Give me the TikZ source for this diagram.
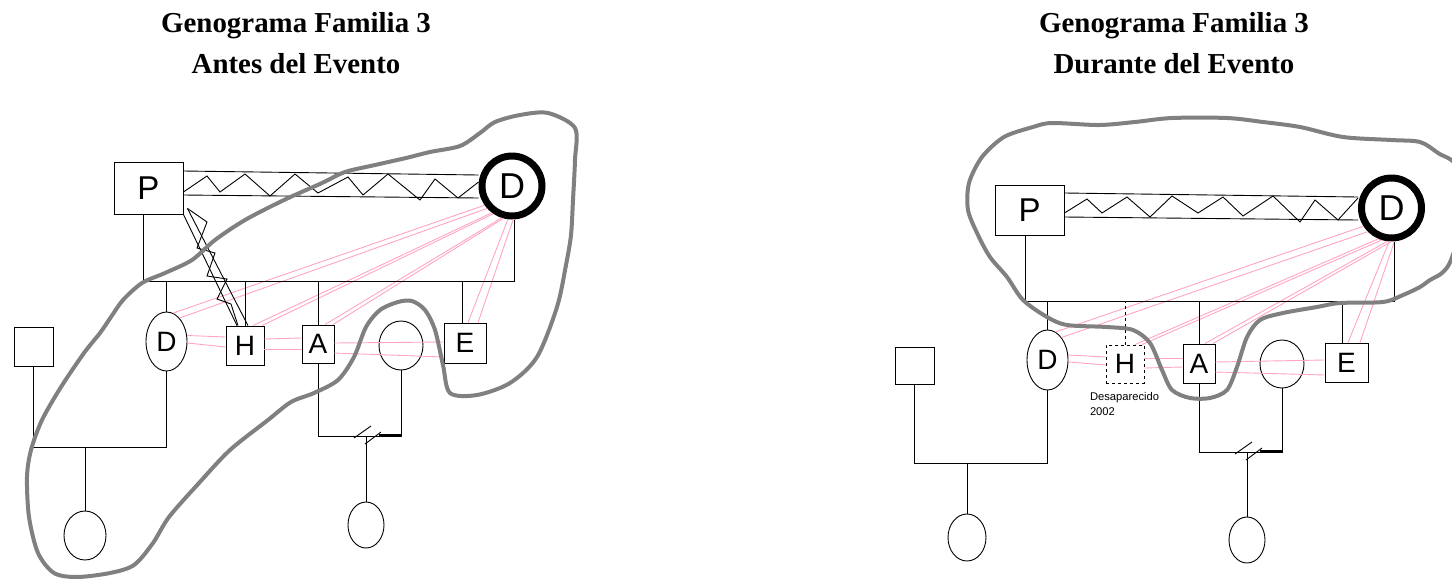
\documentclass[tikz,border=0pt]{standalone}
\usepackage{fontspec}
\setmainfont{Liberation Serif}
\newfontfamily\paintfont{Liberation Sans}
\usetikzlibrary{positioning,shapes.geometric}

\definecolor{relpink}{RGB}{255,165,195}
\definecolor{cloudgray}{RGB}{128,128,128}

\begin{document}
\begin{tikzpicture}[x=1pt,y=-1pt,line width=0.9pt,
  title/.style={font=\fontsize{28.9}{34}\selectfont\bfseries,inner sep=0pt},
  male/.style={rectangle,draw,inner sep=0pt,font=\paintfont\fontsize{28}{28}\selectfont},
  female/.style={ellipse,draw,inner sep=0pt,font=\paintfont\fontsize{28}{28}\selectfont},
  big/.style={font=\paintfont\fontsize{33}{33}\selectfont},
  focus/.style={circle,draw,line width=7pt,minimum size=60pt,inner sep=0pt,
    font=\paintfont\fontsize{36}{36}\selectfont},
  note/.style={font=\paintfont\fontsize{11.2}{15}\selectfont,align=left,inner sep=0pt},
  rel/.style={relpink,line width=0.9pt},
  bound/.style={cloudgray,line width=4pt,line cap=round,line join=round}
]
\useasboundingbox (0,0) rectangle (1452,579);

% antes del evento
\node[title,anchor=base] (t1) at (296,32) {Genograma Familia 3};
\node[title,below=14pt of t1] (s1) {Antes del Evento};

\node[male,big,minimum width=69pt,minimum height=52pt] (p1) at (148.5,188) {P};
\node[focus] (m1) at (512,186) {D};
\node[female,minimum width=41pt,minimum height=59pt] (d1) at (166.5,341.5) {D};
\node[male,minimum width=38pt,minimum height=39pt] (h1) at (245,345.5) {H};
\node[male,minimum width=32pt,minimum height=38pt] (a1) at (318,344) {A};
\node[female,minimum width=44pt,minimum height=49pt] (c1) at (401,345.5) {};
\node[male,minimum width=42pt,minimum height=40pt] (e1) at (465,343) {E};
\node[male,minimum size=39pt] (sq1) at (33.5,346.5) {};
\node[female,minimum width=42pt,minimum height=49pt] (n1) at (85,535.5) {};
\node[female,minimum width=36pt,minimum height=46pt] (na1) at (366,525) {};

\coordinate (sib1) at (0,281);
\coordinate (cpl1) at (0,447);
\coordinate (cpl2) at (0,436);

% relaciones (rosa)
\draw[rel] (m1.215) -- (d1.77);
\draw[rel] (m1.222) -- (d1.61);
\draw[rel] (m1.233) -- ([xshift=8pt]h1.north);
\draw[rel] (m1.236) -- ([xshift=17pt]h1.north);
\draw[rel] (m1.252) -- ([xshift=7pt]a1.north);
\draw[rel] (m1.255) -- ([xshift=15pt]a1.north);
\draw[rel] (m1.263) -- ([xshift=3pt]e1.north);
\draw[rel] (m1.272) -- ([xshift=13pt]e1.north);
\draw[rel] ([yshift=6pt]d1.east) -- ([yshift=8.5pt]h1.west);
\draw[rel] ([yshift=-1.5pt]d1.east) -- ([yshift=-1.5pt]h1.west);
\draw[rel] ([yshift=6.5pt]h1.east) -- ([yshift=6pt]a1.west);
\draw[rel] ([yshift=-3.5pt]h1.east) -- ([yshift=-5pt]a1.west);
\draw[rel] ([yshift=1pt]a1.east) -- ([yshift=1pt]e1.west);
\draw[rel] ([yshift=-9pt]a1.east) -- ([yshift=-14pt]e1.west);

% familia
\draw ([xshift=-5.5pt]p1.south) |- ([xshift=2pt]m1.south |- sib1) -- ([xshift=2pt]m1.south);
\foreach \n in {d1,h1,a1}
  \draw (\n.north) -- (\n.north |- sib1);
\draw ([xshift=-3pt]e1.north) -- ([xshift=-3pt]e1.north |- sib1);
\draw (sq1.south) |- (d1.south |- cpl1) -- (d1.south);
\draw (n1.north) -- (n1.north |- cpl1);
\draw (a1.south) |- (c1.south |- cpl2) -- (c1.south);
\draw (na1.north) -- (na1.north |- cpl2);
\coordinate (dv1) at (na1.north |- cpl2);
\draw ([shift={(-12,2)}]dv1) -- ([shift={(5,-10)}]dv1);
\draw ([shift={(-1,8)}]dv1) -- ([shift={(15,-4)}]dv1);
\draw[line width=2.5pt] ([shift={(13,-1)}]dv1) -- ([shift={(36,-1)}]dv1);

% conflicto P - D
\draw ([yshift=17pt]p1.east) -- ([yshift=11pt]m1.west);
\draw ([yshift=-7pt]p1.east) -- ([yshift=-12pt]m1.west);
\draw ([yshift=-4pt]p1.east) -- (207,176) -- (220,192) -- (245,174) -- (270,196)
  -- (295,174) -- (318,193) -- (348,177) -- (363,195) -- (388,174) -- (420,200)
  -- (435,179) -- (458,198) -- ([yshift=4pt]m1.west);

% conflicto P - H
\draw (p1.south east) -- ([xshift=-8pt]h1.north);
\draw ([shift={(4,-6)}]p1.south east) -- ([xshift=3pt]h1.north);
\draw ([shift={(4,-6)}]p1.south east) -- (207,222) -- (197,248) -- (215,253)
  -- (207,276) -- (227,279) -- (217,299) -- (231,304) -- ([xshift=-7pt]h1.north);

\draw[bound] plot[smooth cycle] coordinates {
  (548,113) (575,128) (575,160) (573,200) (571,235) (566,265) (557,307)
  (537,357) (510,383) (477,395) (450,393) (443,365) (435,330) (425,310)
  (412,301) (398,302) (380,310) (366,327) (354,357) (338,380) (314,393)
  (291,402) (268,420) (230,450) (199,483) (169,517) (153,543) (134,565)
  (110,573) (77,577) (54,573) (38,553) (29,517) (27,477) (31,450) (42,420)
  (61,387) (84,353) (100,333) (111,317) (123,300) (142,283) (165,273)
  (192,260) (215,240) (245,220) (284,200) (322,183) (345,172) (375,165)
  (406,158) (430,152) (460,146) (480,133) (495,122) (520,115)};

% durante del evento
\node[title,anchor=base] (t2) at (1174,32) {Genograma Familia 3};
\node[title,below=14pt of t2] (s2) {Durante del Evento};

\node[male,big,minimum width=69pt,minimum height=50pt] (p2) at (1029.5,210) {P};
\node[focus] (m2) at (1391.5,208) {D};
\node[female,minimum width=41pt,minimum height=60pt] (d2) at (1047.5,360) {D};
\node[male,dashed,minimum width=38pt,minimum height=38pt] (h2) at (1125,364) {H};
\node[male,minimum width=32pt,minimum height=39pt] (a2) at (1199,363.5) {A};
\node[female,minimum width=44pt,minimum height=48pt] (c2) at (1282,364) {};
\node[male,minimum width=43pt,minimum height=39pt] (e2) at (1346.5,362.5) {E};
\node[male,minimum width=39pt,minimum height=37pt] (sq2) at (914.5,365.5) {};
\node[female,minimum width=38pt,minimum height=47pt] (n2) at (967,537.5) {};
\node[female,minimum width=36pt,minimum height=46pt] (na2) at (1247,540) {};
\node[note,anchor=north west] (desap) at ([shift={(-16,8)}]h2.south west) {Desaparecido\\2002};

\coordinate (sib2) at (0,301);
\coordinate (cpl3) at (0,463);
\coordinate (cpl4) at (0,452);

% relaciones (rosa)
\draw[rel] (m2.213) -- (d2.74);
\draw[rel] (m2.225) -- (d2.58);
\draw[rel] (m2.247) -- ([xshift=10pt]h2.north);
\draw[rel] (m2.253) -- ([xshift=17pt]h2.north);
\draw[rel] (m2.263) -- ([xshift=6pt]a2.north);
\draw[rel] (m2.270) -- ([xshift=14pt]a2.north);
\draw[rel] (m2.266) -- ([xshift=1.5pt]e2.north);
\draw[rel] (m2.275) -- ([xshift=13.5pt]e2.north);
\draw[rel] ([yshift=5pt]d2.east) -- ([yshift=7pt]h2.west);
\draw[rel] ([yshift=-2pt]d2.east) -- ([yshift=-1pt]h2.west);
\draw[rel] ([yshift=6pt]h2.east) -- ([yshift=5.5pt]a2.west);
\draw[rel] ([yshift=-4pt]h2.east) -- ([yshift=-3.5pt]a2.west);
\draw[rel] ([yshift=1.5pt]a2.east) -- ([yshift=2.5pt]e2.west);
\draw[rel] ([yshift=-8.5pt]a2.east) -- ([yshift=-12.5pt]e2.west);

% familia
\draw ([xshift=-4.5pt]p2.south) |- ([xshift=3pt]m2.south |- sib2) -- ([xshift=3pt]m2.south);
\foreach \n in {d2,a2}
  \draw (\n.north) -- (\n.north |- sib2);
\draw[dashed] (h2.north) -- (h2.north |- sib2);
\draw ([xshift=-4.5pt]e2.north) -- ([xshift=-4.5pt]e2.north |- sib2);
\draw (sq2.south) |- (d2.south |- cpl3) -- (d2.south);
\draw (n2.north) -- (n2.north |- cpl3);
\draw (a2.south) |- (c2.south |- cpl4) -- (c2.south);
\draw (na2.north) -- (na2.north |- cpl4);
\coordinate (dv2) at (na2.north |- cpl4);
\draw ([shift={(-12,2)}]dv2) -- ([shift={(5,-10)}]dv2);
\draw ([shift={(-1,8)}]dv2) -- ([shift={(15,-4)}]dv2);
\draw[line width=2.5pt] ([shift={(13,-1)}]dv2) -- ([shift={(36,-1)}]dv2);

% conflicto P - D
\draw ([yshift=17pt]p2.east) -- ([yshift=11pt]m2.west);
\draw ([yshift=-7pt]p2.east) -- ([yshift=-12pt]m2.west);
\draw ([yshift=-3pt]p2.east) -- (1087,199) -- (1102,213) -- (1127,197) -- (1150,217)
  -- (1172,196) -- (1198,213) -- (1223,197) -- (1243,216) -- (1273,196) -- (1300,222)
  -- (1315,200) -- (1338,220) -- ([yshift=10pt]m2.west);

\draw[bound] plot[smooth cycle] coordinates {
  (968,210) (969,183) (982,157) (1004,137) (1033,127) (1052,123) (1099,125)
  (1135,122) (1172,118) (1227,118) (1263,122) (1300,127) (1343,137) (1391,140)
  (1420,142) (1438,153) (1458,168) (1462,220) (1451,260) (1442,273) (1430,280)
  (1420,287) (1403,295) (1383,302) (1340,303) (1317,307) (1283,313) (1260,320)
  (1247,337) (1237,367) (1227,390) (1210,398) (1190,398) (1172,390) (1162,370)
  (1150,343) (1133,330) (1107,327) (1067,325) (1047,317) (1023,300) (1007,277)
  (990,257) (978,235)};

\end{tikzpicture}
\end{document}
